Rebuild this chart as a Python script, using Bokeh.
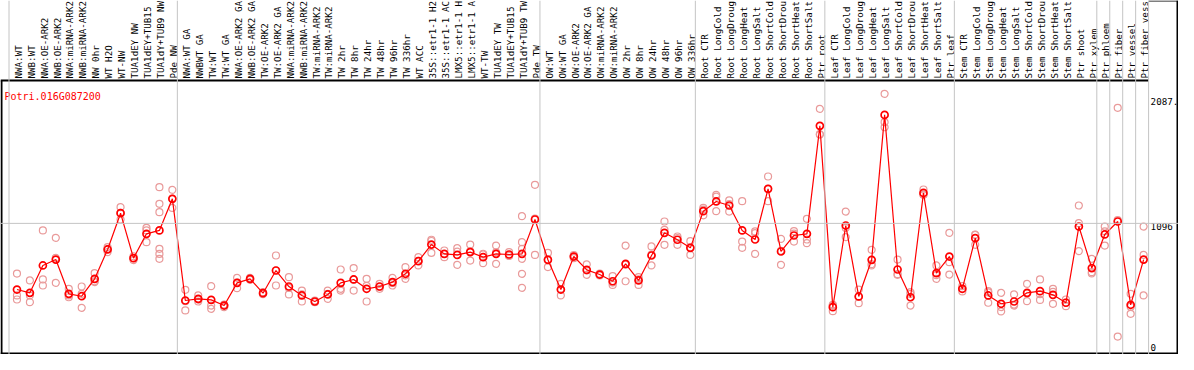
import math
from bokeh.plotting import figure
from bokeh.models import Range1d, Span
from bokeh.core.properties import value
from bokeh.embed import file_html
from bokeh.resources import INLINE

gene = "Potri.016G087200"

categories = [
    "NWA:WT", "NWB:WT", "NWA:OE-ARK2", "NWB:OE-ARK2", "NWA:miRNA-ARK2", "NWB:miRNA-ARK2",
    "NW 0hr", "WT H2O", "WT-NW", "TUA1dEY NW", "TUA1dEY+TUB15 NW", "TUA1dY+TUB9 NW", "Pde NW",
    "NWA:WT GA", "NWBWT GA", "TW:WT", "TW:WT GA", "NWA:OE-ARK2 GA", "NWB:OE-ARK2 GA",
    "TW:OE-ARK2", "TW:OE-ARK2 GA", "NWA:miRNA-ARK2", "NWB:miRNA-ARK2", "TW:miRNA-ARK2",
    "TW:miRNA-ARK2", "TW 2hr", "TW 8hr", "TW 24hr", "TW 48hr", "TW 96hr", "TW 336hr",
    "WT ACC", "35S::etr1-1 H2O", "35S::etr1-1 ACC", "LMX5::etr1-1 H2O", "LMX5::etr1-1 ACC",
    "WT-TW", "TUA1dEY TW", "TUA1dEY+TUB15 TW", "TUA1dY+TUB9 TW", "Pde TW",
    "OW:WT", "OW:WT GA", "OW:OE-ARK2", "OW:OE-ARK2 GA", "OW:miRNA-ARK2", "OW:miRNA-ARK2",
    "OW 2hr", "OW 8hr", "OW 24hr", "OW 48hr", "OW 96hr", "OW 336hr",
    "Root CTR", "Root LongCold", "Root LongDrought", "Root LongHeat", "Root LongSalt",
    "Root ShortCold", "Root ShortDrought", "Root ShortHeat", "Root ShortSalt", "Ptr root",
    "Leaf CTR", "Leaf LongCold", "Leaf LongDrought", "Leaf LongHeat", "Leaf LongSalt",
    "Leaf ShortCold", "Leaf ShortDrought", "Leaf ShortHeat", "Leaf ShortSalt", "Ptr leaf",
    "Stem CTR", "Stem LongCold", "Stem LongDrought", "Stem LongHeat", "Stem LongSalt",
    "Stem ShortCold", "Stem ShortDrought", "Stem ShortHeat", "Stem ShortSalt",
    "Ptr shoot", "Ptr xylem", "Ptr phloem", "Ptr fiber", "Ptr vessel", "Ptr fiber vessel",
]
label_chars = 14  # the chart shows at most 14 characters of each sample name

means = [
    571, 545, 762, 809, 537, 518, 656, 889, 1177, 820, 1013, 1040, 1291,
    484, 497, 489, 444, 624, 656, 542, 722, 595, 524, 476, 532, 624, 651, 577, 595, 630, 696,
    796, 928, 854, 846, 868, 828, 854, 849, 854, 1127,
    807, 571, 833, 727, 690, 637, 775, 643, 841, 1021, 966, 902,
    1193, 1270, 1238, 1040, 968, 1370, 873, 1000, 1013, 1870,
    431, 1079, 516, 807, 1957, 730, 510, 1338, 701, 833,
    577, 979, 524, 458, 476, 545, 558, 529, 466, 1071, 741,
    1008, 1111, 450, 809,
]

replicates = [
    [698, 524, 492], [643, 524, 471], [1040, 651, 603], [981, 624, 822], [577, 524, 510],
    [595, 537, 426], [701, 630, 637], [907, 868, 892], [1225, 1127, 1180], [820, 835, 805],
    [1060, 947, 1040], [1383, 1251, 1185, 894, 854, 815], [1362, 1219, 1292],
    [569, 405, 478], [524, 476, 491], [598, 444, 418], [450, 431, 451], [664, 582, 626],
    [664, 648, 656], [550, 534, 542], [841, 603, 722], [669, 532, 584], [563, 476, 533],
    [484, 471, 473], [563, 497, 536], [730, 577, 563], [741, 563, 649], [656, 476, 600],
    [616, 577, 592], [664, 603, 623], [749, 656, 683],
    [828, 762, 798], [966, 862, 956], [881, 828, 853], [899, 767, 872], [928, 801, 875],
    [849, 780, 855], [920, 775, 867], [868, 841, 838], [1153, 947, 894, 815, 696, 585],
    [1402, 846, 1133],
    [862, 749, 810], [616, 524, 573], [845, 820, 834], [770, 688, 723], [697, 683, 690],
    [677, 608, 626], [920, 637, 768], [669, 608, 652], [913, 762, 848], [1111, 1045, 926],
    [992, 926, 980], [955, 846, 905],
    [1219, 1205, 1160], [1323, 1309, 1193], [1278, 1250, 1190], [1272, 952, 902],
    [1032, 854, 1018], [1468, 1272, 1370], [973, 767, 879], [1034, 952, 1014],
    [1132, 968, 939], [2005, 1801, 1804],
    [444, 399, 450], [1190, 987, 1060], [571, 463, 514], [886, 762, 773], [2124, 1899, 1859],
    [809, 688, 693], [550, 444, 536], [1365, 1325, 1324], [762, 656, 685], [1021, 788, 690],
    [598, 556, 577], [1005, 926, 1006], [558, 466, 548], [545, 397, 432], [532, 444, 452],
    [616, 479, 540], [651, 489, 534], [577, 458, 552], [492, 439, 467], [1238, 1098, 876],
    [815, 709, 699],
    [1071, 920, 1033], [2013, 198, 1122], [537, 378, 435], [1071, 846, 524],
]

group_ends = [0, 13, 41, 53, 63, 73, 84, 85, 86, 87, 88]
tick_values = [2087.4, 1096, 0]
tick_labels = ["2087.", "1096", "0"]

# ---- layout (screen pixels inside the figure) ----
W, H = 1178, 354
P = 12.95            # pixels per category
X0 = 3.52            # pixel of category index 0
Y0 = 361.0           # pixel of value 0
K = 0.12602          # pixels per expression unit
HEADER = 80          # pixel row of header separator
SEP = 5 / 13         # separator offset after a category (in category units)
PANEL = X0 + P * (88 + SEP)   # left edge of the value panel

def xd(px):
    return (px - X0) / P

def yd(py):
    return (Y0 - py) / K

FONT = value("DejaVu Sans Mono")
GRAY = "#C4C4C4"
RED = "#FF0000"
PINK = "#E99A9A"

p = figure(width=W, height=H, x_range=Range1d(xd(0), xd(W)), y_range=Range1d(yd(H), yd(0)),
           output_backend="svg", toolbar_location=None, min_border=0,
           x_axis_location=None, y_axis_location=None, outline_line_color=None,
           background_fill_color="white", border_fill_color="white")
p.grid.visible = False

# group separators
for k in group_ends:
    p.add_layout(Span(location=k + SEP, dimension="height", line_color=GRAY, line_width=1))
# value grid line
p.add_layout(Span(location=tick_values[1], dimension="width", line_color=GRAY, line_width=1))

# frame lines
p.segment(x0=[xd(1), xd(0), xd(0), xd(W - 1)],
          y0=[yd(HEADER), yd(HEADER), yd(H - 1), yd(0)],
          x1=[xd(1), xd(PANEL), xd(W), xd(W - 1)],
          y1=[yd(H), yd(HEADER), yd(H - 1), yd(H)],
          line_color="black", line_width=2)
p.segment(x0=[xd(PANEL)], y0=[yd(0.5)], x1=[xd(W)], y1=[yd(0.5)],
          line_color="black", line_width=1)

# header labels
idx = list(range(1, len(categories) + 1))
shown = [c[:label_chars] for c in categories]
p.text(x=[i + 1.2 / P for i in idx], y=[yd(HEADER - 2)] * len(idx), text=shown,
       angle=math.pi / 2, text_align="left", text_baseline="middle",
       text_font=FONT, text_font_size="9.2px", text_color="black")

# title
p.text(x=[xd(4)], y=[yd(95.7)], text=[gene], text_align="left", text_baseline="alphabetic",
       text_font=FONT, text_font_size="10px", text_color=RED)

# replicate points
rx, ry = [], []
for i, reps in zip(idx, replicates):
    for r in reps:
        rx.append(i)
        ry.append(r)
p.scatter(rx, ry, marker="circle", size=7, fill_color=None, line_color=PINK, line_width=1.2)

# mean line and points
p.line(idx, means, line_color=RED, line_width=1.2)
p.scatter(idx, means, marker="circle", size=7, fill_color=None, line_color=RED, line_width=1.7)

# value labels
p.text(x=[xd(PANEL + 2)] * 2, y=tick_values[:2], text=tick_labels[:2], text_align="left",
       text_baseline="top", text_font=FONT, text_font_size="9.2px", text_color="black")
p.text(x=[xd(PANEL + 2)], y=[max(tick_values[2], yd(H - 4))], text=tick_labels[2:],
       text_align="left", text_baseline="bottom", text_font=FONT, text_font_size="9.2px",
       text_color="black")

open("out.html", "w").write(file_html(p, INLINE))
